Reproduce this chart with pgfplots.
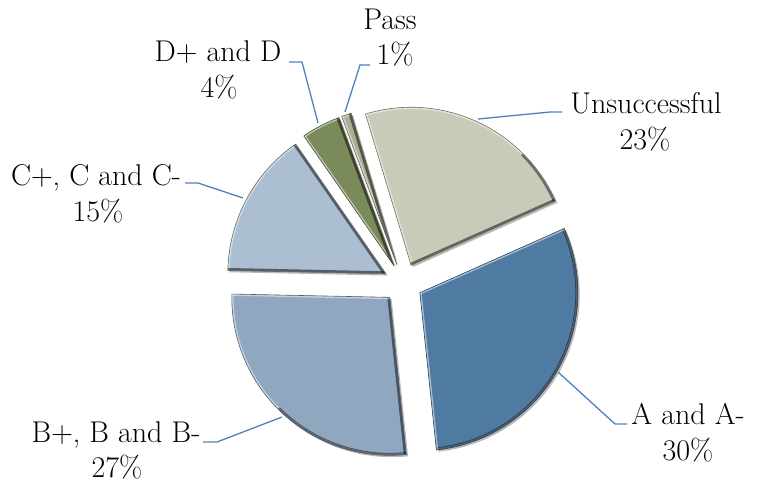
\documentclass[border=0pt]{standalone}
\usepackage{pgfplots}
\pgfplotsset{compat=1.18}
\usepackage{pgfplotstable}
\definecolor{cA}{HTML}{4F7BA3}
\definecolor{cB}{HTML}{8FA8C0}
\definecolor{cC}{HTML}{ACBED2}
\definecolor{cD}{HTML}{7B8A5B}
\definecolor{cP}{HTML}{A9AE94}
\definecolor{cU}{HTML}{C8CBB8}
\definecolor{leader}{HTML}{4F81BD}
\pgfplotstableread{
id value
A 30
B 27
C 15
D 4
P 1
U 23
}\pietable
\newcommand\lbl{\fontsize{30}{36}\selectfont}
\def\R{158}
\begin{document}
\begin{tikzpicture}
\begin{axis}[width=762pt,height=483pt,scale only axis,
  xmin=0,xmax=762,ymin=0,ymax=483,enlargelimits=false,
  hide axis,clip=false]
\addplot[draw=none,forget plot] coordinates {(0,0) (762,483)};
\pgfplotsextra{
 \xdef\cur{24}
 \foreach \i/\col in {0/cA,1/cB,2/cC,3/cD,4/cP,5/cU}{
   \pgfplotstablegetelem{\i}{value}\of\pietable
   \pgfmathsetmacro\sweep{3.6*\pgfplotsretval}
   \pgfmathsetmacro\endang{\cur-\sweep}
   \pgfmathsetmacro\mid{\cur-\sweep/2}
   \pgfmathsetmacro\ax{403+19.5*cos(\mid)}
   \pgfmathsetmacro\ay{200+19.5*sin(\mid)}
   \pgfmathsetmacro\sx{\ax+1.8}
   \pgfmathsetmacro\sy{\ay-1.8}
   \pgfmathsetmacro\ls{cos(\cur-45)}
   \pgfmathsetmacro\le{cos(\endang-225)}
   % shadow
   \fill[black,opacity=0.28] (axis cs:\sx,\sy) -- ++(\cur:\R pt) arc[start angle=\cur,end angle=\endang,radius=\R pt] -- cycle;
   % body
   \fill[\col] (axis cs:\ax,\ay) -- ++(\cur:\R pt) arc[start angle=\cur,end angle=\endang,radius=\R pt] -- cycle;
   \begin{scope}
     \clip (axis cs:\ax,\ay) -- ++(\cur:\R pt) arc[start angle=\cur,end angle=\endang,radius=\R pt] -- cycle;
     \draw[white,opacity=0.5,line width=3.5pt] (axis cs:\ax,\ay) ++(\cur:\R pt) arc[start angle=\cur,end angle=\endang,radius=\R pt];
     \begin{scope}
       \clip (axis cs:\ax,\ay) ++(45:400pt) -- ++(-45:400pt) -- ++(-135:800pt) -- ++(135:400pt) -- cycle;
       \draw[black,opacity=0.5,line width=5pt] (axis cs:\ax,\ay) ++(\cur:\R pt) arc[start angle=\cur,end angle=\endang,radius=\R pt];
     \end{scope}
     \ifdim\ls pt>0pt
       \draw[white,opacity=0.5,line width=3.5pt] (axis cs:\ax,\ay) -- ++(\cur:\R pt);
     \else
       \draw[black,opacity=0.5,line width=5pt] (axis cs:\ax,\ay) -- ++(\cur:\R pt);
     \fi
     \ifdim\le pt>0pt
       \draw[white,opacity=0.5,line width=3.5pt] (axis cs:\ax,\ay) -- ++(\endang:\R pt);
     \else
       \draw[black,opacity=0.5,line width=5pt] (axis cs:\ax,\ay) -- ++(\endang:\R pt);
     \fi
   \end{scope}
   \draw[\col!55!black,line width=0.6pt,line join=round] (axis cs:\ax,\ay) -- ++(\cur:\R pt) arc[start angle=\cur,end angle=\endang,radius=\R pt] -- cycle;
   \xdef\cur{\endang}
 }
}
% leader lines
\addplot[leader,line width=1.3pt,no marks] coordinates {(478,364) (550,371) (562,371)};
\addplot[leader,line width=1.3pt,no marks] coordinates {(558,111) (615,59) (627,59)};
\addplot[leader,line width=1.3pt,no marks] coordinates {(282,66) (217,41) (203,41)};
\addplot[leader,line width=1.3pt,no marks] coordinates {(243,285) (198,300) (185,300)};
\addplot[leader,line width=1.3pt,no marks] coordinates {(318,360) (302,421) (289,421)};
\addplot[leader,line width=1.3pt,no marks] coordinates {(345,371) (360,418) (370,418)};
% labels
\node[anchor=base] at (axis cs:646,370) {\lbl Unsuccessful};
\node[anchor=base] at (axis cs:645,334) {\lbl 23\%};
\node[anchor=base] at (axis cs:688,59) {\lbl A and A-};
\node[anchor=base] at (axis cs:688,23) {\lbl 30\%};
\node[anchor=base] at (axis cs:116,41) {\lbl B+, B and B-};
\node[anchor=base] at (axis cs:117,6) {\lbl 27\%};
\node[anchor=base] at (axis cs:96,298) {\lbl C+, C and C-};
\node[anchor=base] at (axis cs:98,262) {\lbl 15\%};
\node[anchor=base] at (axis cs:218,421) {\lbl D+ and D};
\node[anchor=base] at (axis cs:219,385) {\lbl 4\%};
\node[anchor=base] at (axis cs:390,453) {\lbl Pass};
\node[anchor=base] at (axis cs:395,418) {\lbl 1\%};
\end{axis}
\end{tikzpicture}
\end{document}
